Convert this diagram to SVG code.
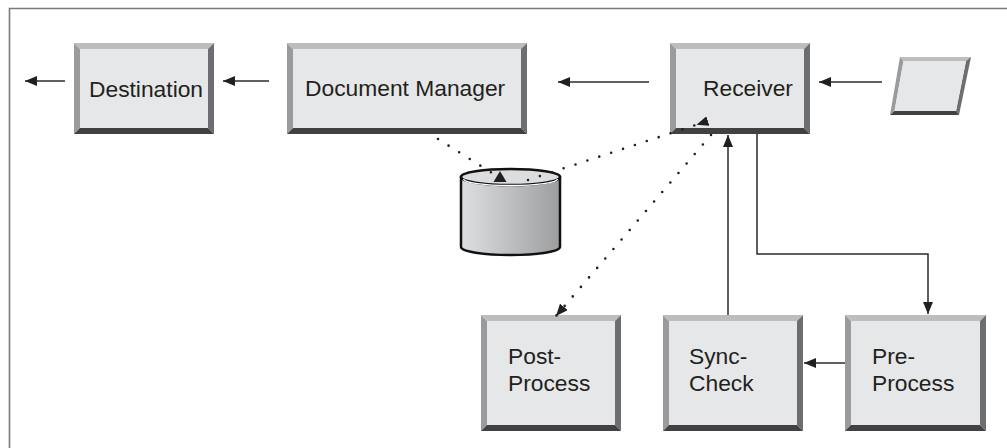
<svg xmlns="http://www.w3.org/2000/svg" width="1007" height="448" viewBox="0 0 1007 448">
<style>
.top{fill:#bcbdbf}
.left{fill:#9a9b9d}
.right{fill:#6d6e71}
.bot{fill:#414042}
.face{fill:#e6e7e8}
.lbl{font-family:"Liberation Sans",Arial,sans-serif;font-size:22.8px;fill:#231f20}
.ln{stroke:#2b2b2b;stroke-width:1.5;fill:none}
.dot{stroke:#231f20;stroke-width:2.6;fill:none;stroke-linecap:round;stroke-dasharray:0 12.5}
</style>
<defs>
<marker id="arr" markerUnits="userSpaceOnUse" markerWidth="12" markerHeight="10" refX="12" refY="5" orient="auto">
<path d="M0,0 L12,5 L0,10 Z" fill="#231f20"/>
</marker>
<linearGradient id="cyl" x1="0" y1="0" x2="1" y2="0">
<stop offset="0" stop-color="#dedfe0"/>
<stop offset="1" stop-color="#9d9ea0"/>
</linearGradient>
</defs>
<rect width="1007" height="448" fill="#fff"/>
<path d="M9.5,448 V8.5 H1007" fill="none" stroke="#7a7a7a" stroke-width="1.6"/>

<g id="destination" transform="translate(74,43)">
<polygon class="top" points="0,0 140,0 134,6 6,6"/>
<polygon class="left" points="0,0 6,6 6,85 0,91"/>
<polygon class="right" points="140,0 140,91 134,85 134,6"/>
<polygon class="bot" points="0,91 6,85 134,85 140,91"/>
<rect class="face" x="6" y="6" width="128" height="79"/>
<text class="lbl" x="15" y="54">Destination</text>
</g>

<g id="document-manager" transform="translate(287,43)">
<polygon class="top" points="0,0 240,0 234,6 6,6"/>
<polygon class="left" points="0,0 6,6 6,85 0,91"/>
<polygon class="right" points="240,0 240,91 234,85 234,6"/>
<polygon class="bot" points="0,91 6,85 234,85 240,91"/>
<rect class="face" x="6" y="6" width="228" height="79"/>
<text class="lbl" x="18" y="53">Document Manager</text>
</g>

<g id="receiver" transform="translate(670,43)">
<polygon class="top" points="0,0 140,0 134,6 6,6"/>
<polygon class="left" points="0,0 6,6 6,85 0,91"/>
<polygon class="right" points="140,0 140,91 134,85 134,6"/>
<polygon class="bot" points="0,91 6,85 134,85 140,91"/>
<rect class="face" x="6" y="6" width="128" height="79"/>
<text class="lbl" x="33" y="53">Receiver</text>
</g>

<g id="input">
<polygon class="top" points="900,57 971,57 966,61 903.5,61"/>
<polygon class="left" points="900,57 903.5,61 894.5,111 890,115"/>
<polygon class="right" points="971,57 959,115 956,111 966,61"/>
<polygon class="bot" points="890,115 894.5,111 956,111 959,115"/>
<polygon class="face" points="903.5,61 966,61 956,111 894.5,111"/>
</g>

<g id="database">
<path d="M461,177 V247 A49.5,8 0 0 0 560,247 V177 Z" fill="url(#cyl)" stroke="#111" stroke-width="2.5"/>
<ellipse cx="510.5" cy="177" rx="49.5" ry="8" fill="#dcdddf" stroke="#111" stroke-width="2.5"/>
<path d="M463.5,179 A47,6.5 0 0 0 557.5,179" fill="none" stroke="#fff" stroke-width="1.4"/>
</g>

<g id="post-process" transform="translate(481,315)">
<polygon class="top" points="0,0 140,0 134,6 6,6"/>
<polygon class="left" points="0,0 6,6 6,110 0,116"/>
<polygon class="right" points="140,0 140,116 134,110 134,6"/>
<polygon class="bot" points="0,116 6,110 134,110 140,116"/>
<rect class="face" x="6" y="6" width="128" height="104"/>
<text class="lbl" x="27" y="49">Post-</text>
<text class="lbl" x="27" y="76">Process</text>
</g>

<g id="sync-check" transform="translate(663,315)">
<polygon class="top" points="0,0 140,0 134,6 6,6"/>
<polygon class="left" points="0,0 6,6 6,110 0,116"/>
<polygon class="right" points="140,0 140,116 134,110 134,6"/>
<polygon class="bot" points="0,116 6,110 134,110 140,116"/>
<rect class="face" x="6" y="6" width="128" height="104"/>
<text class="lbl" x="26" y="49">Sync-</text>
<text class="lbl" x="26" y="76">Check</text>
</g>

<g id="pre-process" transform="translate(845,315)">
<polygon class="top" points="0,0 141,0 135,6 6,6"/>
<polygon class="left" points="0,0 6,6 6,110 0,116"/>
<polygon class="right" points="141,0 141,116 135,110 135,6"/>
<polygon class="bot" points="0,116 6,110 135,110 141,116"/>
<rect class="face" x="6" y="6" width="129" height="104"/>
<text class="lbl" x="27" y="49">Pre-</text>
<text class="lbl" x="27" y="76">Process</text>
</g>

<g id="connectors">
<line class="ln" x1="65" y1="81" x2="25" y2="81" marker-end="url(#arr)"/>
<line class="ln" x1="269" y1="81" x2="223" y2="81" marker-end="url(#arr)"/>
<line class="ln" x1="649" y1="82" x2="558" y2="82" marker-end="url(#arr)"/>
<line class="ln" x1="882" y1="82" x2="819" y2="82" marker-end="url(#arr)"/>
<line class="ln" x1="728" y1="315" x2="728" y2="135" marker-end="url(#arr)"/>
<polyline class="ln" points="757,134 757,254 928,254 928,314" marker-end="url(#arr)"/>
<line class="ln" x1="845" y1="363" x2="804" y2="363" marker-end="url(#arr)"/>
<line class="dot" x1="438" y1="139" x2="492" y2="173"/>
<polygon points="500,171 493.5,182 506.5,182" fill="#231f20"/>
<line class="dot" x1="528" y1="180" x2="708" y2="121"/>
<path d="M708,121 L696.5,124.8" marker-end="url(#arr)" stroke="none" fill="none"/>
<line class="dot" x1="711" y1="135" x2="556" y2="316"/>
<path d="M563.8,306.9 L556,316" marker-end="url(#arr)" stroke="none" fill="none"/>
</g>
</svg>
